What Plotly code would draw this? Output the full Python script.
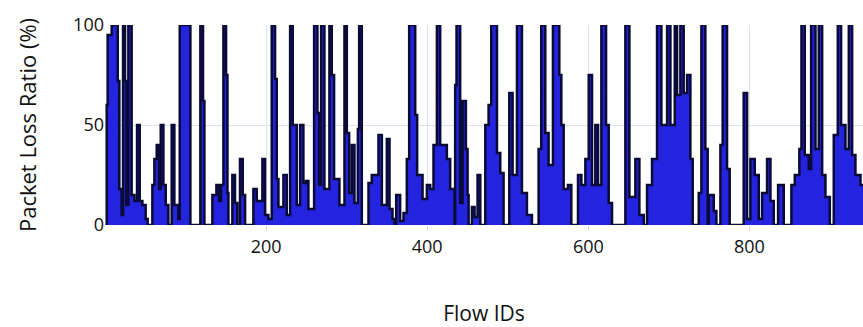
import plotly.graph_objects as go

flow_ids = [1, 2.1, 3.3, 8.3, 15.8, 17.8, 20.7, 22.4, 24.9, 26.5, 29, 33.1, 36.5, 39.8, 43.1, 46.4, 50.5, 53,
            58.8, 61.3, 64.2, 67.1, 69.2, 72.5, 75.4, 78.7, 82.8, 86.1, 91.1, 92.8, 106, 118.4, 121.7, 123.4,
            133.3, 138.3, 141.6, 144, 147, 150.3, 152, 153.2, 158.1, 161.4, 164.3, 167.6, 171, 173.9, 184.2,
            188.4, 195.4, 198.7, 202.8, 207, 211.1, 213.2, 215.3, 221.5, 225.6, 229.8, 233.1, 238, 242.2,
            246.3, 249.6, 252.5, 259.6, 263.7, 265.8, 268.3, 272.4, 278.6, 281.5, 284.4, 291, 297.3, 300.2,
            303.1, 306.4, 309.7, 313.9, 315.5, 318.8, 327.1, 331.2, 339.5, 343.7, 349.9, 353.2, 356.9, 359.4,
            361.5, 366.4, 370.6, 374.7, 377.6, 385.1, 387.5, 394.2, 399.6, 403.7, 407.8, 412, 416.1, 424.4,
            428.5, 433.9, 434.7, 436.4, 440.9, 443.9, 448, 450.1, 451.4, 455.5, 458.8, 462.5, 465.9, 472.1,
            476.2, 479.5, 486.6, 490.7, 494.8, 501.9, 506, 511.4, 517.6, 523.8, 530, 538.3, 541.6, 546.6,
            550.7, 556.1, 564, 566.5, 569.4, 574.7, 578.9, 587.2, 591.4, 596.3, 600.5, 604.6, 608.7, 612.1,
            616.2, 622, 625.3, 629.4, 646, 651, 658.4, 663.4, 668.8, 672.9, 679.1, 685.3, 690.7, 697.8,
            701.9, 707.3, 710.2, 714.3, 718.4, 722.6, 726.7, 729.6, 737.1, 740.4, 745.3, 748.2, 749.5, 755.7,
            759, 764, 766.8, 772.2, 775.5, 792.9, 797.1, 801.2, 806.6, 811.6, 815.7, 821.9, 826.1, 830.2,
            835.6, 842.6, 852.1, 856.3, 862, 864.6, 868.7, 873.7, 876.6, 882, 886.1, 890.3, 894.4, 899.8,
            904.7, 909.7, 913.8, 919.2, 923.4, 927.5, 931.6, 937.9, 941]

loss_ratio = [0, 60, 95, 100, 72, 18, 5, 100, 72, 10, 100, 15, 12, 50, 12, 10, 3, 0,
              20, 33, 40, 18, 50, 20, 10, 0, 50, 10, 3, 100, 0, 100, 62, 0,
              15, 20, 12, 20, 100, 75, 16, 0, 25, 11, 0, 33, 15, 0, 18,
              12, 33, 5, 3, 100, 73, 23, 9, 25, 5, 100, 50, 10, 50,
              21, 22, 8, 100, 56, 20, 100, 18, 100, 75, 23, 10, 100, 46,
              16, 40, 11, 48, 100, 0, 21, 25, 45, 10, 43, 8, 3, 0,
              15, 2, 6, 33, 100, 55, 25, 13, 20, 18, 40, 100, 40, 33,
              18, 0, 70, 100, 11, 62, 38, 15, 0, 9, 4, 25, 0, 50,
              60, 100, 36, 26, 0, 66, 25, 100, 16, 5, 0, 38, 100, 46,
              30, 100, 75, 50, 18, 20, 0, 25, 20, 33, 75, 20, 50, 20,
              100, 50, 11, 0, 100, 14, 33, 5, 0, 20, 33, 100, 50, 100,
              50, 100, 65, 100, 66, 75, 33, 0, 16, 100, 38, 0, 15, 7,
              0, 40, 100, 28, 0, 66, 3, 33, 25, 3, 16, 33, 12, 0,
              20, 0, 20, 25, 38, 100, 35, 28, 100, 38, 100, 25, 14, 0,
              45, 100, 50, 38, 100, 35, 25, 20, 20]

x_ticks = [200, 400, 600, 800]
y_ticks = [0, 50, 100]

fig = go.Figure()
fig.add_trace(go.Scatter(
    x=flow_ids, y=loss_ratio, mode="lines", line_shape="hv",
    fill="tozeroy", fillcolor="#2424e0",
    line=dict(color="#0a0a36", width=2.5),
    hoverinfo="skip", showlegend=False,
))

font_family = "Open Sans"
fig.update_layout(
    width=863, height=327,
    margin=dict(l=105, r=0, t=25, b=102),
    paper_bgcolor="white", plot_bgcolor="white",
    font=dict(family=font_family, color="#111111"),
    xaxis=dict(
        range=[0, 941], tickvals=x_ticks, showgrid=True, gridcolor="#dde3ee", gridwidth=1,
        zeroline=False, showline=False, ticks="outside", ticklen=5, tickcolor="#d0d6e2",
        tickfont=dict(size=18), automargin=False,
        title=dict(text="Flow IDs", font=dict(size=21), standoff=50),
    ),
    yaxis=dict(
        range=[0, 100], tickvals=y_ticks, showgrid=True, gridcolor="#dde3ee", gridwidth=1,
        zeroline=False, showline=False, ticks="", tickfont=dict(size=18), automargin=False,
        title=dict(text="Packet Loss Ratio (%)", font=dict(size=22), standoff=30),
    ),
)

fig.write_html("out.html")
